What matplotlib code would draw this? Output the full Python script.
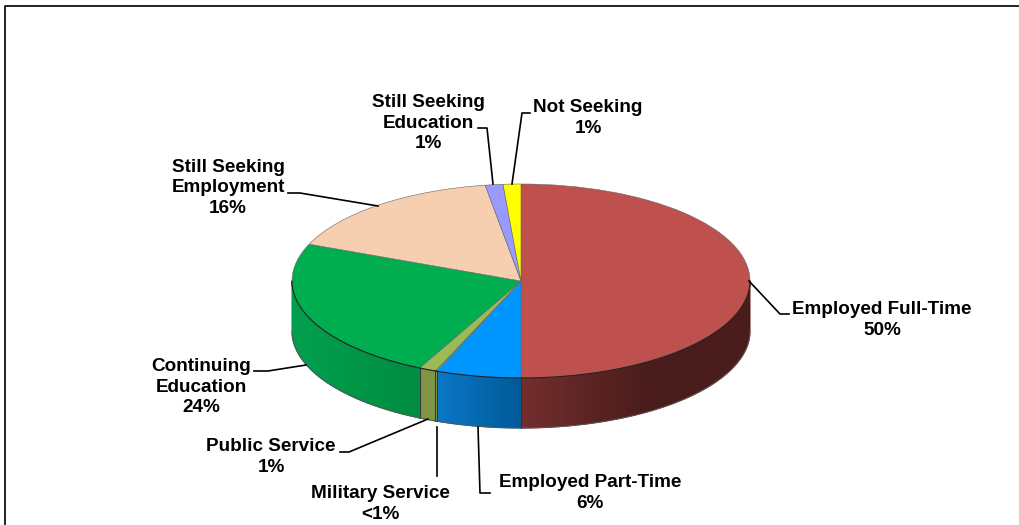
import numpy as np
import matplotlib
matplotlib.use("Agg")
import matplotlib.pyplot as plt
from matplotlib.colors import to_rgb
from matplotlib.lines import Line2D
from matplotlib.patches import Polygon

plt.rcParams["font.family"] = ["Liberation Sans", "DejaVu Sans"]

WIDTH, HEIGHT = 1019, 525
CENTER_X, CENTER_Y = 521, 281
RADIUS_X, RADIUS_Y = 229, 97
DEPTH = 50

categories = [
    "Employed Full-Time",
    "Employed Part-Time",
    "Military Service",
    "Public Service",
    "Continuing Education",
    "Still Seeking Employment",
    "Still Seeking Education",
    "Not Seeking",
]
values = [50.0, 6.0, 0.1, 1.2, 23.9, 16.3, 1.25, 1.25]
top_colors = [
    "#BE504D", "#0096FF", "#9BBB59", "#9BBB59",
    "#00AE50", "#F6CEB0", "#9999FF", "#FFFF00",
]
side_left = [
    "#742E2E", "#0B78C8", "#7F9645", "#7F9645",
    "#00A04E", "#C0A088", "#7070C0", "#C0C000",
]
side_right = [
    "#4A1C1C", "#005A96", "#7F9645", "#7F9645",
    "#008C42", "#C0A088", "#7070C0", "#C0C000",
]
# share of each wall's width over which the shade changes
side_fade = [0.55, 1, 1, 1, 1, 1, 1, 1]
label_texts = [
    "Employed Full-Time\n50%",
    "Employed Part-Time\n6%",
    "Military Service\n<1%",
    "Public Service\n1%",
    "Continuing\nEducation\n24%",
    "Still Seeking\nEmployment\n16%",
    "Still Seeking\nEducation\n1%",
    "Not Seeking\n1%",
]
label_positions = [
    (882, 320), (590, 493), (380, 504), (271, 457),
    (201, 387), (228, 188), (428, 123), (588, 118),
]
leader_paths = [
    [(749, 281), (780, 314), (789, 314)],
    [(478, 427), (480, 493), (490, 493)],
    [(437, 427), (437, 476)],
    [(428, 419), (349, 452), (340, 452)],
    [(306, 365), (268, 371), (254, 371)],
    [(378, 206), (300, 193), (288, 193)],
    [(493, 184), (487, 128), (478, 128)],
    [(512, 184), (522, 113), (530, 113)],
]


def to_figure(point):
    return point[0] / WIDTH, 1 - point[1] / HEIGHT


def draw_side(axis, start, end, left_color, right_color, fade, depth):
    """Draw the visible front wall between two angles (degrees)."""
    low = max(start, 180)
    high = min(end, 360)
    if high <= low:
        return
    arc = np.radians(np.linspace(low, high, 120))
    xs = np.cos(arc)
    ys = np.sin(arc)
    outline = np.vstack(
        [
            np.column_stack([xs, ys]),
            np.column_stack([xs[::-1], ys[::-1] - depth]),
        ]
    )

    # solid base so no white seam shows between neighbouring walls
    axis.fill(
        outline[:, 0],
        outline[:, 1],
        color=left_color,
        linewidth=0.8,
        zorder=0.5,
    )

    # horizontal gradient image, clipped to the outline of the wall
    shade = np.clip(np.linspace(0, 1, 256) / fade, 0, 1)[None, :, None]
    gradient = (
        np.array(left_color)[None, None, :] * (1 - shade)
        + np.array(right_color)[None, None, :] * shade
    )
    image = axis.imshow(
        gradient,
        extent=(xs.min(), xs.max(), ys.min() - depth, ys.max()),
        aspect="auto",
        origin="lower",
        zorder=1,
    )
    image.set_clip_path(
        Polygon(outline, closed=True, transform=axis.transData)
    )

    for angle in (low, high):
        if angle not in (180, 360):
            x = np.cos(np.radians(angle))
            y = np.sin(np.radians(angle))
            axis.plot([x, x], [y, y - depth], color="#333333", lw=0.6, zorder=2)
    axis.plot(xs, ys - depth, color="#555555", lw=0.7, zorder=2)
    axis.plot(xs, ys, color="#222222", lw=0.8, zorder=4)


def main() -> None:
    figure = plt.figure(figsize=(WIDTH / 100, HEIGHT / 100), dpi=100)
    axis = figure.add_axes([0, 0, 1, 1])

    wedges, _ = axis.pie(
        values,
        colors=top_colors,
        startangle=90,
        counterclock=False,
        radius=1,
        wedgeprops={"edgecolor": "#666666", "linewidth": 0.4, "zorder": 3},
    )

    for wedge, left, right, fade in zip(
        wedges, side_left, side_right, side_fade
    ):
        # pie gives negative angles when clockwise, shift them into 0..360
        start = wedge.theta1 % 360
        end = start + (wedge.theta2 - wedge.theta1)
        draw_side(
            axis,
            start,
            end,
            to_rgb(left),
            to_rgb(right),
            fade,
            DEPTH / RADIUS_Y,
        )

    axis.set_aspect("auto")
    axis.set_xlim(-CENTER_X / RADIUS_X, (WIDTH - CENTER_X) / RADIUS_X)
    axis.set_ylim(-(HEIGHT - CENTER_Y) / RADIUS_Y, CENTER_Y / RADIUS_Y)
    axis.axis("off")

    # only the left and top edges of the frame are inside the picture
    frame = [to_figure(point) for point in [(5, 525), (5, 6), (1019, 6)]]
    figure.add_artist(
        Line2D(
            [point[0] for point in frame],
            [point[1] for point in frame],
            color="#111111",
            linewidth=1.3,
            transform=figure.transFigure,
        )
    )

    for path in leader_paths:
        points = [to_figure(point) for point in path]
        figure.add_artist(
            Line2D(
                [point[0] for point in points],
                [point[1] for point in points],
                color="black",
                linewidth=1.2,
                transform=figure.transFigure,
            )
        )

    for text, position in zip(label_texts, label_positions):
        x, y = to_figure(position)
        figure.text(
            x,
            y,
            text,
            ha="center",
            va="center",
            fontsize=13.6,
            fontweight="bold",
            linespacing=1.3,
            color="black",
        )

    figure.savefig("out.png", dpi=100, facecolor="white")
    plt.close(figure)


if __name__ == "__main__":
    main()
